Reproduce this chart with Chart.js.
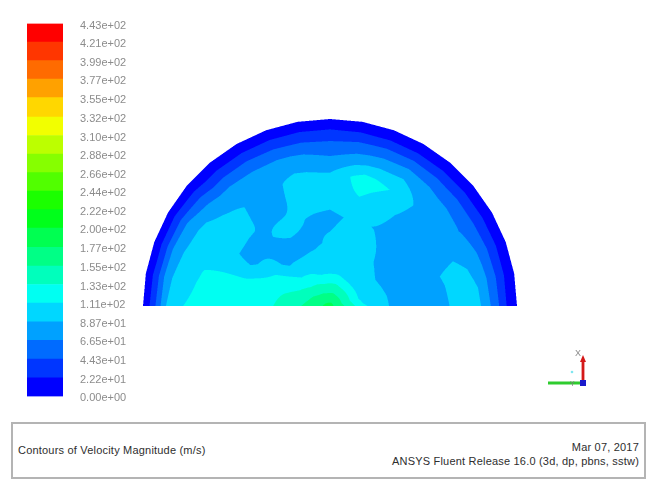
<!DOCTYPE html>
<html>
<head>
<meta charset="utf-8">
<title>Contours of Velocity Magnitude</title>
<script src="https://cdn.jsdelivr.net/npm/chart.js@4.4.1/dist/chart.umd.min.js"></script>
<style>
  html, body { margin: 0; padding: 0; background: #ffffff; }
  #page { position: relative; width: 653px; height: 481px; overflow: hidden;
          font-family: "Liberation Sans", Arial, sans-serif; }
  #fieldCanvas { position: absolute; left: 0; top: 0; }
  #legendCanvas { position: absolute; left: 0; top: 0; }
  #triad { position: absolute; left: 540px; top: 340px; }
  #infoBox { position: absolute; left: 11px; top: 422px; width: 635px; height: 57px;
             box-sizing: border-box; border: 2px solid #b4b4b4; background: #fff; }
  .info { position: absolute; font-size: 11px; line-height: 13px; color: #2e2e2e;
          white-space: nowrap; letter-spacing: 0.2px; }
  #title { left: 5px; top: 20px; }
  #date { right: 5px; top: 17px; }
  #release { right: 5px; top: 31px; }
</style>
</head>
<body>
<div id="page">
  <canvas id="fieldCanvas" width="653" height="420"></canvas>
  <canvas id="legendCanvas" width="150" height="420"></canvas>
  <svg id="triad" width="60" height="55" viewBox="0 0 60 55">
    <line x1="43" y1="43" x2="43" y2="20" stroke="#d41818" stroke-width="2.8"/>
    <path d="M40 22 L43 15 L46 22 Z" fill="#d41818"/>
    <text x="35" y="16" font-family="Liberation Sans, Arial, sans-serif" font-size="9" fill="#8a8a8a">X</text>
    <line x1="8" y1="43" x2="41" y2="43" stroke="#2ecc2e" stroke-width="2.8"/>
    <text x="30" y="46" font-family="Liberation Sans, Arial, sans-serif" font-size="7" fill="#7a7a7a">Y</text>
    <circle cx="32" cy="32" r="1.3" fill="#7fe6f0"/>
    <rect x="40" y="40" width="6" height="6" fill="#1a1acc"/>
  </svg>
  <div id="infoBox">
    <div class="info" id="title">Contours of Velocity Magnitude (m/s)</div>
    <div class="info" id="date">Mar 07, 2017</div>
    <div class="info" id="release">ANSYS Fluent Release 16.0 (3d, dp, pbns, sstw)</div>
  </div>
</div>

<script>
// Colour-bar level labels, bottom (0) to top (max), in m/s
const legendLabels = ['0.00e+00', '2.22e+01', '4.43e+01', '6.65e+01', '8.87e+01',
  '1.11e+02', '1.33e+02', '1.55e+02', '1.77e+02', '2.00e+02', '2.22e+02',
  '2.44e+02', '2.66e+02', '2.88e+02', '3.10e+02', '3.32e+02', '3.55e+02',
  '3.77e+02', '3.99e+02', '4.21e+02', '4.43e+02'];
const levels = legendLabels.map(Number);

// Mesh stations of the half-disc section: normalised radius and polar angle (deg)
const radialStations = [0, 0.18, 0.34, 0.48, 0.6, 0.7, 0.8, 0.88, 0.945, 1.0];
const angularStations = [0, 15, 30, 45, 60, 75, 90, 105, 120, 135, 150, 165, 180];

// Velocity magnitude (m/s) along each ray, centre -> wall
const speedRay000 = [185, 115, 84, 80, 84, 96, 92, 58, 22, 0];
const speedRay015 = [185, 100, 85, 80, 88, 95, 85, 52, 22, 0];
const speedRay030 = [185, 100, 82, 78, 76, 76, 66, 46, 21, 0];
const speedRay045 = [185, 100, 88, 80, 78, 78, 72, 48, 21, 0];
const speedRay060 = [185, 102, 98, 88, 95, 108, 85, 52, 21, 0];
const speedRay075 = [185, 108, 98, 92, 110, 124, 80, 50, 21, 0];
const speedRay090 = [185, 108, 92, 84, 100, 92, 67, 45, 22, 0];
const speedRay105 = [185, 108, 85, 88, 98, 95, 78, 48, 22, 0];
const speedRay120 = [185, 115, 80, 95, 80, 80, 76, 50, 22, 0];
const speedRay135 = [185, 120, 80, 85, 90, 92, 80, 50, 22, 0];
const speedRay150 = [185, 132, 110, 82, 92, 98, 92, 68, 30, 0];
const speedRay165 = [185, 140, 125, 118, 115, 112, 100, 80, 30, 0];
const speedRay180 = [185, 150, 128, 124, 120, 117, 110, 88, 35, 0];

const speedRays = [speedRay000, speedRay015, speedRay030, speedRay045, speedRay060,
  speedRay075, speedRay090, speedRay105, speedRay120, speedRay135, speedRay150,
  speedRay165, speedRay180];

// Angular width of the straight wall facets of the section outline (deg)
const wallFacetDeg = 10;

// Banded rainbow palette: blue (low) -> red (high), one colour per interval
function hsvToRgb(h) {
  const c = 255, hp = h / 60, x = c * (1 - Math.abs(hp % 2 - 1));
  if (hp < 1) return [c, x, 0];
  if (hp < 2) return [x, c, 0];
  if (hp < 3) return [0, c, x];
  if (hp < 4) return [0, x, c];
  if (hp < 5) return [x, 0, c];
  return [c, 0, x];
}
const bandCount = levels.length - 1;
const palette = [];
for (let k = 0; k < bandCount; k++) palette.push(hsvToRgb(240 * (1 - k / (bandCount - 1))));
const paletteCss = palette.map(c => `rgb(${Math.round(c[0])},${Math.round(c[1])},${Math.round(c[2])})`);

function bandOf(v) {
  let k = 0;
  while (k < bandCount - 1 && v >= levels[k + 1]) k++;
  return k;
}

function lastIndexBelow(arr, v) {
  let i = 0;
  while (i < arr.length - 2 && v >= arr[i + 1]) i++;
  return i;
}

const DEG = Math.PI / 180;
// Speed at a point of the section (data units), or null outside the faceted wall
function speedAt(x, y) {
  const rho = Math.hypot(x, y);
  const th = Math.max(0, Math.min(180, Math.atan2(y, x) / DEG));
  const f = Math.min(Math.floor(th / wallFacetDeg), 180 / wallFacetDeg - 1);
  const fMid = (f + 0.5) * wallFacetDeg;
  const wall = Math.cos(wallFacetDeg / 2 * DEG) / Math.cos((th - fMid) * DEG);
  const rn = rho / wall;
  if (rn > 1) return null;
  const i = lastIndexBelow(angularStations, th);
  const a0 = angularStations[i], a1 = angularStations[i + 1];
  const j = lastIndexBelow(radialStations, rn);
  const r0 = radialStations[j], r1 = radialStations[j + 1];
  const s = (rn - r0) / (r1 - r0), t = (th - a0) / (a1 - a0);
  const A = speedRays[i], B = speedRays[i + 1];
  return (1 - t) * ((1 - s) * A[j] + s * A[j + 1]) + t * ((1 - s) * B[j] + s * B[j + 1]);
}

// Mesh nodes as a (hidden) scatter dataset
const meshNodes = [];
angularStations.forEach((a, i) => radialStations.forEach((r, j) => {
  meshNodes.push({ x: r * Math.cos(a * DEG), y: r * Math.sin(a * DEG), v: speedRays[i][j] });
}));

// Fills the section pixel by pixel through the chart scales, banded like the colour bar
const contourPlugin = {
  id: 'velocityContours',
  beforeDatasetsDraw(chart) {
    const { ctx } = chart;
    const xs = chart.scales.x, ys = chart.scales.y;
    const left = Math.floor(xs.getPixelForValue(xs.min));
    const right = Math.ceil(xs.getPixelForValue(xs.max));
    const top = Math.floor(ys.getPixelForValue(ys.max)) - 1;
    const bottom = Math.ceil(ys.getPixelForValue(ys.min));
    const w = right - left, h = bottom - top;
    const off = document.createElement('canvas');
    off.width = w; off.height = h;
    const octx = off.getContext('2d');
    const img = octx.createImageData(w, h);
    const S = 3, SS = S * S;
    for (let py = 0; py < h; py++) {
      for (let px = 0; px < w; px++) {
        let r = 0, g = 0, b = 0, n = 0;
        for (let sy = 0; sy < S; sy++) {
          const vy = ys.getValueForPixel(top + py + (sy + 0.5) / S);
          if (vy < 0) continue;
          for (let sx = 0; sx < S; sx++) {
            const vx = xs.getValueForPixel(left + px + (sx + 0.5) / S);
            const v = speedAt(vx, vy);
            if (v === null) continue;
            const c = palette[bandOf(v)];
            r += c[0]; g += c[1]; b += c[2]; n++;
          }
        }
        if (n) {
          const p = (py * w + px) * 4;
          img.data[p] = r / n; img.data[p + 1] = g / n; img.data[p + 2] = b / n;
          img.data[p + 3] = 255 * n / SS;
        }
      }
    }
    octx.putImageData(img, 0, 0);
    ctx.drawImage(off, left, top);
  }
};

new Chart(document.getElementById('fieldCanvas'), {
  type: 'scatter',
  data: { datasets: [{ label: 'Velocity Magnitude', data: meshNodes, pointRadius: 0, showLine: false }] },
  options: {
    responsive: false,
    animation: false,
    events: [],
    layout: { padding: { left: 143, right: 136, top: 119, bottom: 114 } },
    plugins: { legend: { display: false }, tooltip: { enabled: false } },
    scales: {
      x: { type: 'linear', min: -1, max: 1, display: false },
      y: { type: 'linear', min: 0, max: 1, display: false }
    }
  },
  plugins: [contourPlugin]
});

// Colour bar: one floating bar per level interval, labelled at the level values
new Chart(document.getElementById('legendCanvas'), {
  type: 'bar',
  data: {
    labels: ['Velocity Magnitude'],
    datasets: palette.map((c, k) => ({
      label: legendLabels[k] + ' - ' + legendLabels[k + 1],
      data: [[levels[k], levels[k + 1]]],
      backgroundColor: paletteCss[k],
      borderWidth: 0,
      grouped: false,
      barPercentage: 1,
      categoryPercentage: 1
    }))
  },
  options: {
    responsive: false,
    animation: false,
    events: [],
    layout: { padding: { left: 27, top: 22, bottom: 20, right: 0 } },
    plugins: { legend: { display: false }, tooltip: { enabled: false } },
    scales: {
      x: { display: false },
      y: {
        position: 'right',
        min: levels[0],
        max: levels[levels.length - 1],
        grid: { display: false, drawTicks: false },
        border: { display: false },
        afterBuildTicks: scale => { scale.ticks = levels.map(v => ({ value: v })); },
        afterFit: scale => { scale.width = 87; },
        ticks: {
          autoSkip: false,
          padding: 17,
          labelOffset: 2,
          color: '#8c8c8c',
          font: { family: 'Liberation Sans, Arial, sans-serif', size: 11 },
          callback: (value, index) => legendLabels[index]
        }
      }
    }
  }
});
</script>
</body>
</html>
